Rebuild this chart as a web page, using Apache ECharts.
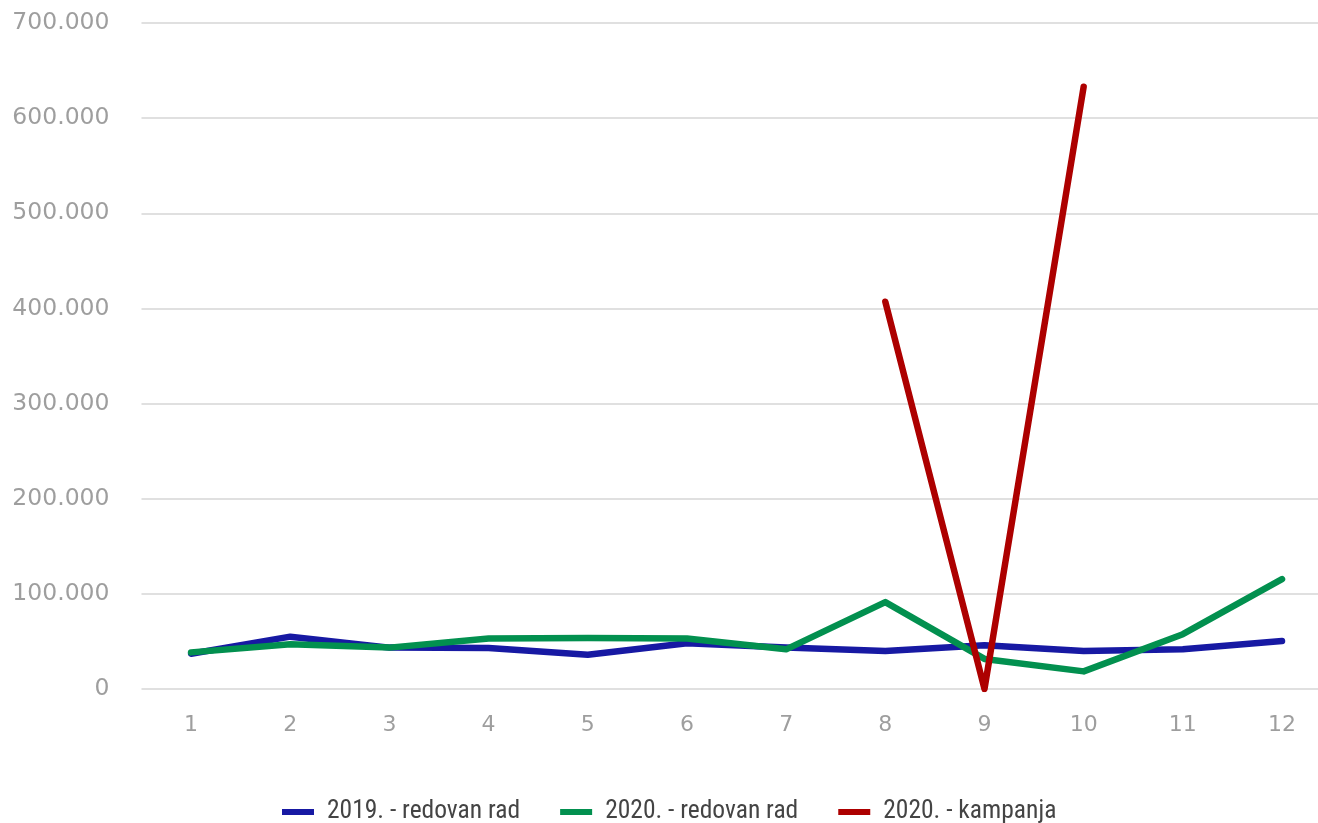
<!DOCTYPE html>
<html>
<head>
<meta charset="utf-8">
<script src="https://cdn.jsdelivr.net/npm/echarts@6/dist/echarts.min.js"></script>
<style>
html,body{margin:0;padding:0;background:#fff;}
#chart{width:1318px;height:823px;}
</style>
</head>
<body>
<div id="chart"></div>
<script>
const categories = ['1','2','3','4','5','6','7','8','9','10','11','12'];
const seriesNames = ['2019. - redovan rad', '2020. - redovan rad', '2020. - kampanja'];
const redovan2019 = [37000, 55000, 43500, 43000, 36000, 48000, 43700, 40000, 46000, 40000, 41700, 50500];
const redovan2020 = [38500, 47000, 43500, 53000, 53500, 53000, 41700, 91300, 31600, 18500, 57600, 115500];
const kampanja2020 = [null, null, null, null, null, null, null, 407000, 0, 633000, null, null];
const yTicks = { min: 0, max: 700000, interval: 100000 };

const colors = ['#1719a3', '#02904f', '#ad0000'];
const chart = echarts.init(document.getElementById('chart'), null, {renderer: 'canvas'});

function fmt(v) {
  return String(v).replace(/\B(?=(\d{3})+(?!\d))/g, '.');
}

const lineStyle = c => ({ width: 6.5, color: c, cap: 'round', join: 'round' });

chart.setOption({
  animation: false,
  color: colors,
  grid: { left: 141.5, top: 23, right: -13.6, bottom: 134, containLabel: false, outerBoundsMode: 'none' },
  legend: {
    left: 277,
    top: 794,
    itemWidth: 32,
    itemHeight: 6,
    itemGap: 40,
    icon: 'rect',
    textStyle: {
      fontFamily: "'Roboto Condensed', 'Liberation Sans Narrow', 'DejaVu Sans Condensed', sans-serif",
      fontSize: 25.5,
      color: '#444',
      padding: [0, 0, 0, 8]
    },
    data: seriesNames
  },
  xAxis: {
    type: 'category',
    data: categories,
    boundaryGap: true,
    axisLine: { show: false },
    axisTick: { show: false },
    axisLabel: {
      margin: 25,
      fontFamily: "'DejaVu Sans', sans-serif",
      fontSize: 22,
      color: '#9e9e9e'
    },
    splitLine: { show: false }
  },
  yAxis: {
    type: 'value',
    min: yTicks.min,
    max: yTicks.max,
    interval: yTicks.interval,
    axisLine: { show: false },
    axisTick: { show: false },
    axisLabel: {
      margin: 32,
      fontFamily: "'DejaVu Sans', sans-serif",
      fontSize: 23.5,
      color: '#9e9e9e',
      formatter: fmt
    },
    splitLine: { lineStyle: { color: '#e0e0e0', width: 2 } }
  },
  series: [
    { name: seriesNames[0], type: 'line', data: redovan2019, showSymbol: false, symbol: 'none', lineStyle: lineStyle(colors[0]), itemStyle: {color: colors[0]} },
    { name: seriesNames[1], type: 'line', data: redovan2020, showSymbol: false, symbol: 'none', lineStyle: lineStyle(colors[1]), itemStyle: {color: colors[1]} },
    { name: seriesNames[2], type: 'line', data: kampanja2020, showSymbol: false, symbol: 'none', connectNulls: false, lineStyle: lineStyle(colors[2]), itemStyle: {color: colors[2]} }
  ]
});
</script>
</body>
</html>
